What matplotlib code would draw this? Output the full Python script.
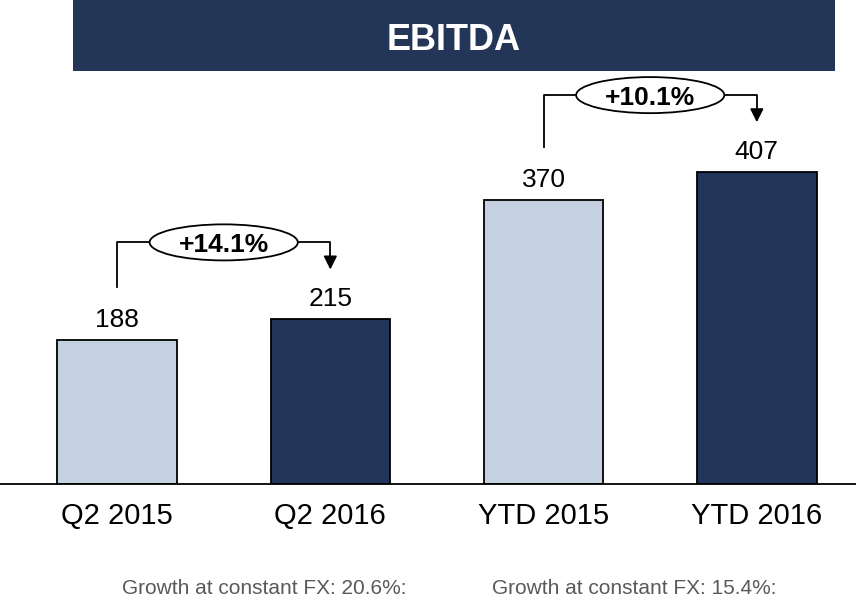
import matplotlib
matplotlib.use("Agg")
import matplotlib.pyplot as plt
from matplotlib.patches import Ellipse, Rectangle
import numpy as np

plt.rcParams['font.family'] = ['Liberation Sans', 'DejaVu Sans']

# data
categories = ['Q2 2015', 'Q2 2016', 'YTD 2015', 'YTD 2016']
values = [188, 215, 370, 407]
growth = ['+14.1%', '+10.1%']
notes = ['Growth at constant FX: 20.6%:', 'Growth at constant FX: 15.4%:']

light = '#c5d0e1'
dark = '#223457'
colors = [light, dark, light, dark]

fig = plt.figure(figsize=(8.56, 6), dpi=100)
ax = fig.add_axes([0, 116 / 600, 1, 484 / 600])

x = np.arange(len(categories))
ax.bar(x, values, width=0.56, color=colors, edgecolor='black', linewidth=1.3, zorder=2)
ax.set_xlim(-0.549, 3.465)
ax.set_ylim(0, 631)

for xi, v in zip(x, values):
    ax.text(xi, v + 17, str(v), ha='center', va='baseline', fontsize=19)

ax.set_xticks(x)
ax.set_xticklabels(categories, fontsize=21)
ax.tick_params(axis='x', length=0, pad=13)
ax.set_yticks([])
for s in ['top', 'left', 'right']:
    ax.spines[s].set_visible(False)
ax.spines['bottom'].set_linewidth(1.3)

# growth brackets
for k, label in enumerate(growth):
    i0, i1 = 2 * k, 2 * k + 1
    v0, v1 = values[i0], values[i1]
    top = max(v0, v1) + 100
    mid = (i0 + i1) / 2
    ew, eh = 0.695, 47
    ax.plot([i0, i0, mid - ew / 2], [v0 + 69, top, top], color='black', lw=1.3)
    ax.plot([mid + ew / 2, i1, i1], [top, top, v1 + 78], color='black', lw=1.3)
    ax.annotate('', xy=(i1, v1 + 61), xytext=(i1, v1 + 80),
                arrowprops=dict(arrowstyle='-|>,head_length=0.8,head_width=0.4',
                                color='black', lw=1.3))
    ax.add_patch(Ellipse((mid, top), ew, eh, facecolor='white', edgecolor='black', lw=1.3, zorder=3))
    ax.text(mid, top, label, ha='center', va='center_baseline', fontsize=19,
            fontweight='bold', zorder=4)

# title banner
fig.patches.append(Rectangle((73 / 856, 1 - 71 / 600), (835 - 73) / 856, 71 / 600,
                             transform=fig.transFigure, facecolor='#243657', edgecolor='none'))
fig.text(454 / 856, 1 - 40 / 600, 'EBITDA', color='white', fontsize=26, fontweight='bold',
         ha='center', va='center')

fig.text(264 / 856, 12 / 600, notes[0], color='#595959', fontsize=15, ha='center', va='center')
fig.text(634 / 856, 12 / 600, notes[1], color='#595959', fontsize=15, ha='center', va='center')

fig.savefig('out.png', dpi=100)
